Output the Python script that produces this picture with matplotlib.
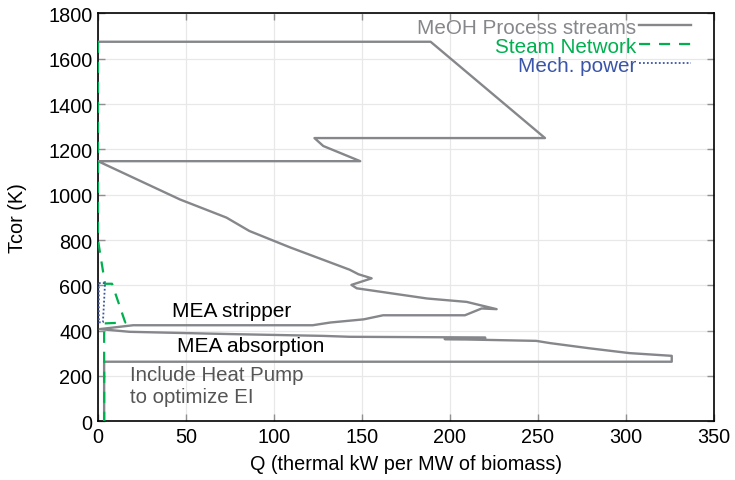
import matplotlib
matplotlib.use("Agg")
import matplotlib.pyplot as plt

plt.rcParams['font.family'] = ['Liberation Sans', 'DejaVu Sans']

# MeOH process streams (grand composite curve): Q (kW/MW biomass), T (K)
proc_q = [0, 189, 254, 123, 128, 149, 0, 46.6, 73, 86, 109, 143, 148, 155.5, 144, 147,
          187, 209.5, 219, 226.5, 218, 208.5, 162, 151, 132, 122, 20, 1,
          18, 75, 128, 143, 220, 220, 197, 249, 257, 279.5, 302, 326, 326, 3.5, 3.5]
proc_t = [1675, 1675, 1250, 1250, 1215, 1148, 1148, 979, 899, 840, 768, 669, 649, 631, 602, 587,
          542, 527, 509, 495, 498, 468, 468, 450, 436, 424, 424, 407,
          395, 385, 377, 373, 370, 365, 363, 355, 345, 322, 301, 289, 263, 263, 0]

# Steam network
steam_q = [0, 0, 4, 8, 15.5, 3.5, 3.5]
steam_t = [1675, 800, 607, 607, 436, 432, 0]

# Mechanical power
mech_q = [0.5, 4, 3.4, 2.8, 0.5, 0.5]
mech_t = [610, 610, 520, 437, 437, 610]

x_ticks = [0, 50, 100, 150, 200, 250, 300, 350]
y_ticks = [0, 200, 400, 600, 800, 1000, 1200, 1400, 1600, 1800]

fig = plt.figure(figsize=(7.35, 4.81), dpi=100)
ax = fig.add_axes([0.1333, 0.122, 0.8381, 0.848])

gray = '#85878b'
green = '#00b050'
blue = '#3a55a8'

ax.plot(proc_q, proc_t, color=gray, lw=1.7, label='MeOH Process streams', zorder=3)
ax.plot(steam_q, steam_t, color=green, lw=1.6, ls=(0, (5, 4)), label='Steam Network', zorder=4)
ax.plot(mech_q, mech_t, color=blue, lw=1.3, ls=(0, (1, 1.2)), label='Mech. power', zorder=5)

ax.set_xlim(0, 350)
ax.set_ylim(0, 1800)
ax.set_xticks(x_ticks)
ax.set_yticks(y_ticks)
ax.grid(True, color='#e8e8e8', lw=0.9, zorder=0)
ax.set_axisbelow(True)
ax.tick_params(direction='in', length=5, width=1, color='#909090',
               top=True, right=True, labelsize=14.3, pad=4)
for s in ax.spines.values():
    s.set_linewidth(1.2)
    s.set_color('black')

ax.set_xlabel('Q (thermal kW per MW of biomass)', fontsize=14.3, labelpad=6)
ax.set_ylabel('Tcor (K)', fontsize=14.3, labelpad=15)

ax.text(76, 490, 'MEA stripper', fontsize=15, ha='center', va='center', color='black', zorder=6)
ax.text(87, 336, 'MEA absorption', fontsize=15, ha='center', va='center', color='black', zorder=6)
ax.text(18, 160, 'Include Heat Pump\nto optimize EI', fontsize=14.7, ha='left', va='center',
        color='#555555', linespacing=1.2, zorder=6)

leg = ax.legend(loc='upper right', bbox_to_anchor=(0.963, 0.99), frameon=False,
                markerfirst=False, fontsize=14.9, labelcolor=[gray, green, blue],
                handlelength=2.5, handletextpad=0.15, labelspacing=0.0, borderpad=0,
                borderaxespad=0)

fig.savefig('out.png', dpi=100)
